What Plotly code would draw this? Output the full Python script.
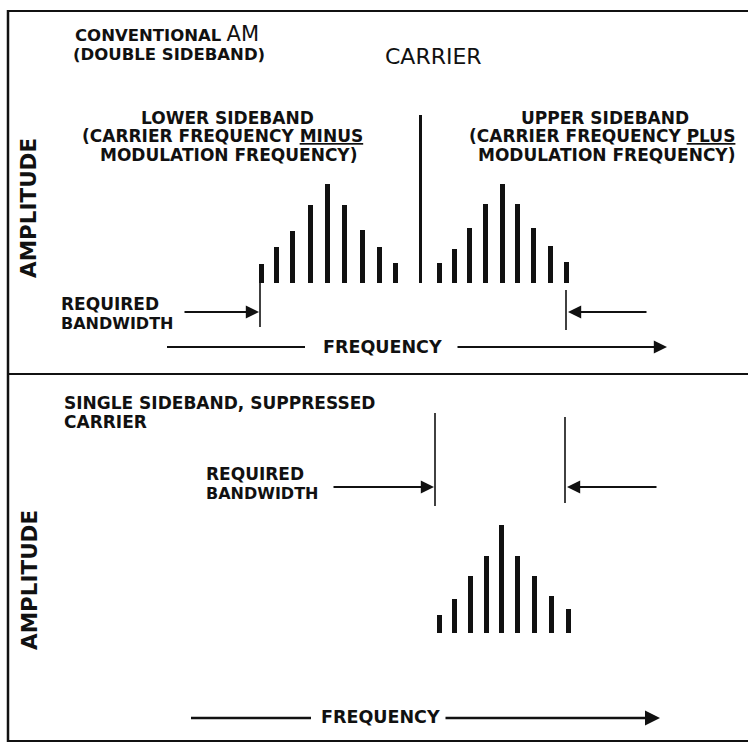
import plotly.graph_objects as go

# ---------------- data (frequency offset from carrier, amplitude) ----------------
lower_freq = [-159, -144, -128, -110, -93, -76, -58, -41, -25]
lower_amp = [19, 36, 52, 78, 99, 78, 53, 36, 20]
carrier_freq = [0]
carrier_amp = [168]
upper_freq = [19, 34, 49, 65, 82, 97, 113, 130, 146]
upper_amp = [20, 34, 55, 79, 99, 79, 55, 37, 21]
ssb_freq = [19, 34, 50, 66, 81, 97, 114, 131, 148]
ssb_amp = [18, 34, 57, 77, 108, 77, 57, 37, 24]

W, H = 748, 743
BOLD = "DejaVu Sans"
INK = "#111111"
FS = 17


def px(x):
    return x / W


def py(y):
    return 1 - y / H


fig = go.Figure()

# top panel bars
fig.add_trace(go.Bar(x=lower_freq, y=lower_amp, width=5, marker=dict(color=INK, line=dict(width=0)),
                     xaxis="x", yaxis="y", showlegend=False))
fig.add_trace(go.Bar(x=carrier_freq, y=carrier_amp, width=3, marker=dict(color=INK, line=dict(width=0)),
                     xaxis="x", yaxis="y", showlegend=False))
fig.add_trace(go.Bar(x=upper_freq, y=upper_amp, width=5, marker=dict(color=INK, line=dict(width=0)),
                     xaxis="x", yaxis="y", showlegend=False))
# bottom panel bars
fig.add_trace(go.Bar(x=ssb_freq, y=ssb_amp, width=5, marker=dict(color=INK, line=dict(width=0)),
                     xaxis="x2", yaxis="y2", showlegend=False))

shapes = []


def line(x0, y0, x1, y1, w=2.2):
    shapes.append(dict(type="line", xref="paper", yref="paper", x0=px(x0), y0=py(y0), x1=px(x1), y1=py(y1),
                       line=dict(color=INK, width=w)))


# frame
line(9, 11, 748, 11, 2.2)
line(8, 10, 8, 742, 2.5)
line(8, 374, 748, 374, 2.2)
line(8, 741, 748, 741, 2.2)

# top bandwidth markers
line(260, 283, 260, 327, 1.6)
line(566, 290, 566, 330, 1.6)
# bottom bandwidth markers
line(435, 413, 435, 506, 1.6)
line(565, 417, 565, 503, 1.6)

# frequency arrows (tails)
line(167, 347, 305, 347, 2.2)
line(191, 718, 311, 718, 2.5)

annotations = []


def text(t, x, y, size=FS, anchor="center", family=BOLD, bold=True, angle=0):
    annotations.append(dict(text=("<b>%s</b>" % t) if bold else t, x=px(x), y=py(y), xref="paper", yref="paper",
                            showarrow=False, xanchor=anchor, yanchor="middle", textangle=angle,
                            font=dict(family=family, size=size, color=INK)))


def arrow(x0, y0, x1, y1, w=2.2):
    annotations.append(dict(x=px(x1), y=py(y1), ax=x0 - x1, ay=y0 - y1, xref="paper", yref="paper",
                            axref="pixel", ayref="pixel", showarrow=True, arrowhead=2, arrowsize=1.2,
                            arrowwidth=w, arrowcolor=INK, text=""))


# texts top
annotations.append(dict(text="<b>CONVENTIONAL</b> <span style='font-size:21px'>AM</span>", x=px(73), y=py(34),
                        xref="paper", yref="paper", showarrow=False, xanchor="left", yanchor="middle",
                        font=dict(family=BOLD, size=16.5, color=INK)))
text("(DOUBLE SIDEBAND)", 71, 54, 16.5, "left")
text("CARRIER", 433, 56, 22, bold=False)
text("LOWER SIDEBAND", 227, 118)
annotations.append(dict(text="<b>(CARRIER FREQUENCY <u>MINUS</u></b>", x=px(222), y=py(136), xref="paper",
                        yref="paper", showarrow=False, xanchor="center", yanchor="middle",
                        font=dict(family=BOLD, size=FS, color=INK)))
text("MODULATION FREQUENCY)", 228, 155)
text("UPPER SIDEBAND", 605, 118)
annotations.append(dict(text="<b>(CARRIER FREQUENCY <u>PLUS</u></b>", x=px(602), y=py(136), xref="paper",
                        yref="paper", showarrow=False, xanchor="center", yanchor="middle",
                        font=dict(family=BOLD, size=FS, color=INK)))
text("MODULATION FREQUENCY)", 606, 155)
text("AMPLITUDE", 28, 208, 21.5, angle=-90)
text("REQUIRED", 59, 304, 17, "left")
text("BANDWIDTH", 59, 323, 16, "left")
text("FREQUENCY", 382, 347, 17.5)

# texts bottom
text("SINGLE SIDEBAND, SUPPRESSED", 62, 403, 17, "left")
text("CARRIER", 62, 422, 17, "left")
text("REQUIRED", 204, 474, 17, "left")
text("BANDWIDTH", 204, 493, 16, "left")
text("AMPLITUDE", 29, 580, 21.5, angle=-90)
text("FREQUENCY", 380, 717, 17.5)

# arrows
arrow(183, 312, 259, 312)
arrow(648, 312, 568, 312)
arrow(332, 487, 434, 487)
arrow(658, 487, 567, 487)
arrow(456, 347, 667, 347)
arrow(444, 718, 660, 718, 2.5)

axis_off = dict(visible=False, showgrid=False, zeroline=False, fixedrange=True)
fig.update_layout(
    width=W, height=H, margin=dict(l=0, r=0, t=0, b=0),
    paper_bgcolor="white", plot_bgcolor="rgba(0,0,0,0)",
    bargap=0, barmode="overlay", hovermode=False,
    xaxis=dict(axis_off, range=[-420, 328], domain=[0, 1], anchor="y"),
    yaxis=dict(axis_off, range=[-91, 283], domain=[1 - 374 / H, 1], anchor="x"),
    xaxis2=dict(axis_off, range=[-420, 328], domain=[0, 1], anchor="y2"),
    yaxis2=dict(axis_off, range=[-110, 259], domain=[0, 1 - 374 / H], anchor="x2"),
    shapes=shapes, annotations=annotations, showlegend=False,
)

fig.write_html("out.html", config={"displayModeBar": False},
               post_script="document.body.style.margin='0';")
